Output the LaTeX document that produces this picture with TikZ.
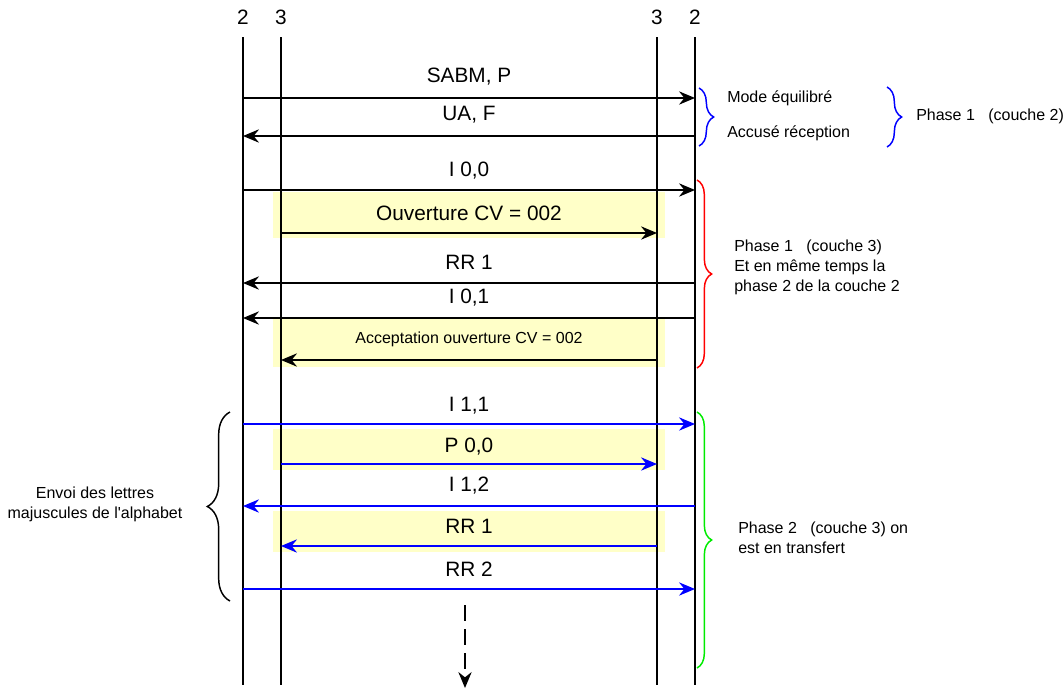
\documentclass[tikz,border=0pt]{standalone}
\usepackage{fontspec}
\setmainfont{Liberation Sans}
\usetikzlibrary{arrows.meta,positioning,decorations.pathreplacing}
\definecolor{boxyellow}{RGB}{255,255,200}
\definecolor{cvblue}{RGB}{0,0,255}
\definecolor{cvred}{RGB}{255,0,0}
\definecolor{cvgreen}{RGB}{0,235,0}

\begin{document}
\begin{tikzpicture}[x=0.75pt,y=-0.75pt,
    every node/.style={font=\fontsize{15.6}{18}\selectfont,inner sep=0pt},
    small/.style={font=\fontsize{12}{15}\selectfont},
    life/.style={line width=1.5pt},
    msg/.style={line width=1.1pt,-{Stealth[length=12pt,width=10pt,inset=4pt]}},
    yellowbox/.style={fill=boxyellow},
    curly/.style={decorate,decoration={brace,amplitude=#1},line width=1.1pt},
    curly/.default=11pt]
      \useasboundingbox (0,0) rectangle (1064,689);
      % Yellow boxes (couche 3)
      \fill[yellowbox] (273,192) rectangle (665,238);
      \fill[yellowbox] (273,319) rectangle (665,367);
      \fill[yellowbox] (273,429) rectangle (665,470);
      \fill[yellowbox] (273,511) rectangle (665,552);
      % Lifelines
      \node (t2l) at (243,17) {2};
      \node (t3l) at (281,17) {3};
      \node (t3r) at (657,17) {3};
      \node (t2r) at (695,17) {2};
      \draw[life] (t2l |- 0,37) -- (t2l |- 0,685);
      \draw[life] (t3l |- 0,37) -- (t3l |- 0,685);
      \draw[life] (t3r |- 0,37) -- (t3r |- 0,685);
      \draw[life] (t2r |- 0,37) -- (t2r |- 0,685);
      % Phase 1 couche 2
      \node (sabm) at (469,77) {SABM, P};
      \draw[msg] (t2l |- 0,98) -- (t2r |- 0,98);
      \node (ua) at (469,115) {UA, F};
      \draw[msg] (t2r |- 0,136) -- (t2l |- 0,136);
      % Phase 1 couche 3
      \node (i00) at (469,171) {I 0,0};
      \draw[msg] (t2l |- 0,190) -- (t2r |- 0,190);
      \node (ouv) at (469,213) {Ouverture CV = 002};
      \draw[msg] (t3l |- 0,233) -- (t3r |- 0,233);
      \node (rr1a) at (469,262) {RR 1};
      \draw[msg] (t2r |- 0,283) -- (t2l |- 0,283);
      \node (i01) at (469,298) {I 0,1};
      \draw[msg] (t2r |- 0,318) -- (t2l |- 0,318);
      \node[small] (acc) at (469,339) {Acceptation ouverture CV = 002};
      \draw[msg] (t3r |- 0,360) -- (t3l |- 0,360);
      % Phase 2 couche 3
      \node (i11) at (469,406) {I 1,1};
      \draw[msg,cvblue] (t2l |- 0,424) -- (t2r |- 0,424);
      \node (p00) at (469,447) {P 0,0};
      \draw[msg,cvblue] (t3l |- 0,464) -- (t3r |- 0,464);
      \node (i12) at (469,486) {I 1,2};
      \draw[msg,cvblue] (t2r |- 0,506) -- (t2l |- 0,506);
      \node (rr1b) at (469,526) {RR 1};
      \draw[msg,cvblue] (t3r |- 0,546) -- (t3l |- 0,546);
      \node (rr2) at (469,569) {RR 2};
      \draw[msg,cvblue] (t2l |- 0,589) -- (t2r |- 0,589);
      % suite
      \coordinate (cont) at (465,605);
      \coordinate (contend) at (465,688);
      \draw[msg,dash pattern=on 12pt off 6pt] (cont) -- (contend);
      % Braces
      \draw[curly,cvblue] (699,88) -- (699,146);
      \node[small,anchor=west] (mode) at (727,98) {Mode équilibré};
      \node[small,anchor=west] (accuse) at (727,133) {Accusé réception};
      \draw[curly,cvblue] (887,87) -- (887,147);
      \node[small,anchor=west] (ph1c2) at (916,116) {Phase 1\ \ \ (couche 2)};
      \draw[curly,cvred] (697,180) -- (697,368);
      \node[small,anchor=west,align=left] (ph1c3) at (734,267)
        {Phase 1\ \ \ (couche 3)\\Et en même temps la\\phase 2 de la couche 2};
      \draw[curly,cvgreen] (697,412) -- (697,668);
      \node[small,anchor=west,align=left] (ph2c3) at (738,538)
        {Phase 2\ \ \ (couche 3) on\\est en transfert};
      \draw[curly=17pt] (230,601) -- (230,412);
      \node[small,align=center] (envoi) at (95,504)
        {Envoi des lettres\\majuscules de l\textquotesingle alphabet};
    \end{tikzpicture}
\end{document}
